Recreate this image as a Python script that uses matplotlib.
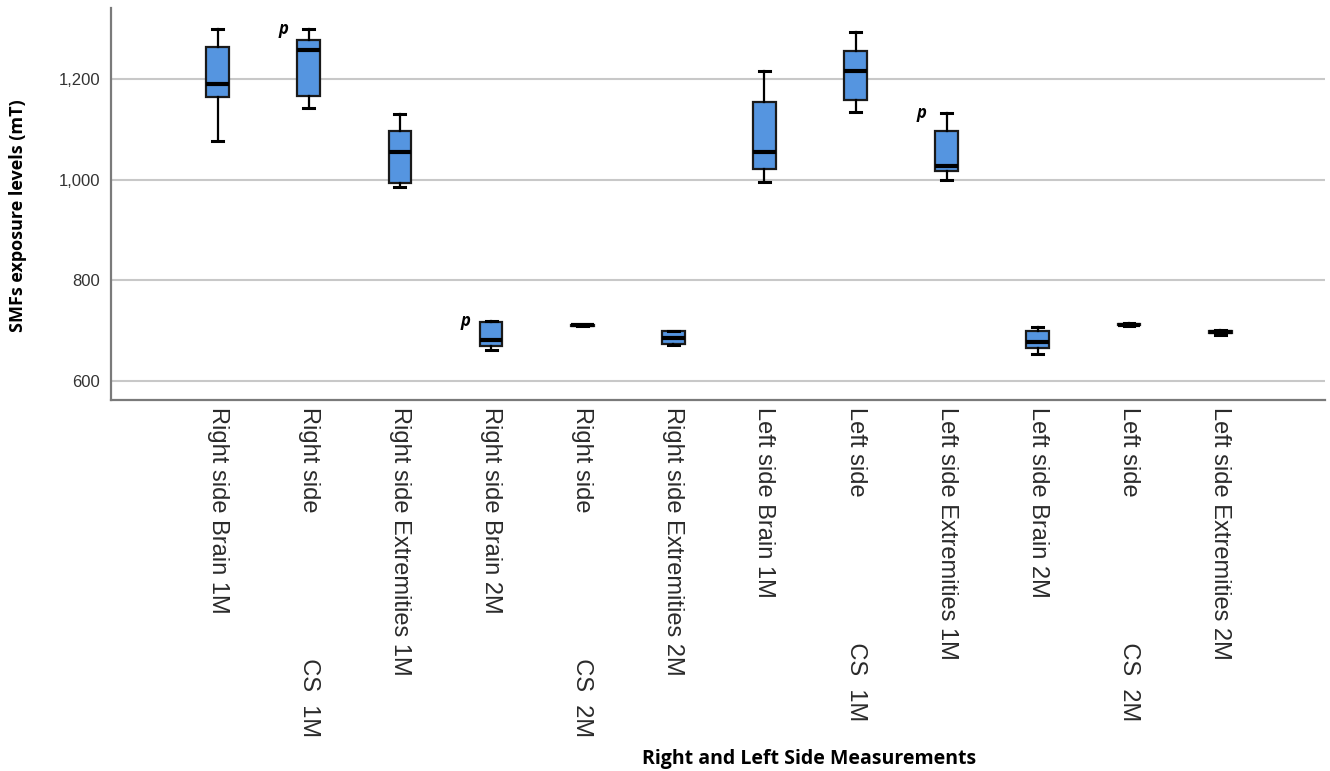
import numpy as np
import matplotlib.pyplot as plt

# box summary values per measurement site (mT)
labels = [
    "Right side Brain 1M",
    "Right side" + " " * 22 + "CS  1M",
    "Right side Extremities 1M",
    "Right side Brain 2M",
    "Right side" + " " * 22 + "CS  2M",
    "Right side Extremities 2M",
    "Left side Brain 1M",
    "Left side" + " " * 22 + "CS  1M",
    "Left side Extremities 1M",
    "Left side Brain 2M",
    "Left side" + " " * 22 + "CS  2M",
    "Left side Extremities 2M",
]
whislo = [1077, 1144, 985, 662, 710, 671, 996, 1136, 1000, 654, 710, 692]
q1 = [1165, 1167, 994, 670, 710, 674, 1022, 1159, 1018, 666, 711, 695]
med = [1190, 1258, 1055, 682, 711, 686, 1056, 1217, 1027, 678, 712, 697]
q3 = [1264, 1279, 1097, 717, 712, 699, 1155, 1257, 1098, 699, 713, 699]
whishi = [1300, 1300, 1131, 720, 712, 700, 1216, 1294, 1133, 707, 715, 701]

# boxes flagged with a "p" marker
p_marks = [1, 3, 8]

stats = []
for i in range(len(labels)):
    stats.append(dict(whislo=whislo[i], q1=q1[i], med=med[i],
                      q3=q3[i], whishi=whishi[i], fliers=[]))

plt.rcParams['font.family'] = ['Liberation Sans', 'DejaVu Sans']

fig = plt.figure(figsize=(13.3, 7.71), dpi=100)
ax = fig.add_axes([0.0835, 0.481, 0.9127, 0.5086])

pos = np.arange(len(labels))
ax.bxp(stats, positions=pos, widths=0.25, patch_artist=True, showfliers=False,
       boxprops=dict(facecolor='#5595e0', edgecolor='#1a1a1a', linewidth=1.6),
       medianprops=dict(color='black', linewidth=3),
       whiskerprops=dict(color='black', linewidth=1.6),
       capprops=dict(color='black', linewidth=2.2),
       capwidths=0.12, zorder=3)

for i in p_marks:
    ax.text(pos[i] - 0.28, whishi[i], "p", fontsize=12, fontweight='bold',
            style='italic', ha='center', va='center', family='Open Sans')

ax.set_xlim(-1.17, 12.15)
ax.set_ylim(562, 1342)
ax.set_yticks([600, 800, 1000, 1200])
ax.set_yticklabels(["600", "800", "1,000", "1,200"])
ax.yaxis.grid(True, color='#c8c8c8', linewidth=1.5, zorder=0)
ax.set_axisbelow(True)

ax.set_xticks(pos)
ax.set_xticklabels(labels, rotation=270, fontsize=17, color='#2a2a2a')
ax.tick_params(axis='x', length=0, pad=5)
ax.tick_params(axis='y', length=0, pad=8, labelsize=12, labelcolor='#333333')

for s in ['top', 'right']:
    ax.spines[s].set_visible(False)
for s in ['left', 'bottom']:
    ax.spines[s].set_color('#7a7a7a')
    ax.spines[s].set_linewidth(1.6)

fig.text(0.0135, 0.72, "SMFs exposure levels (mT)", rotation=90, ha='center',
         va='center', fontsize=13, fontweight='bold', family='Open Sans')
fig.text(0.608, 0.016, "Right and Left Side Measurements", ha='center',
         va='center', fontsize=14, fontweight='bold', family='Open Sans')

fig.savefig("out.png", dpi=100)
